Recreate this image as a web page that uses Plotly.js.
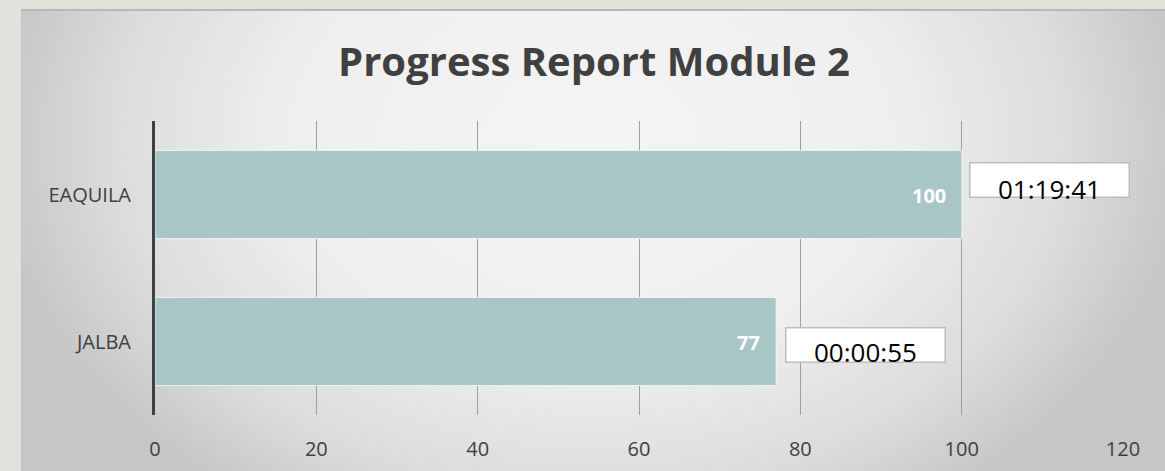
<!DOCTYPE html>
<html>
<head>
<meta charset="utf-8">
<script src="https://cdn.plot.ly/plotly-3.0.1.min.js"></script>
<style>
  html, body { margin: 0; padding: 0; width: 1165px; height: 471px; background: #e1e1dc; overflow: hidden; }
  #frame {
    position: absolute; left: 21px; top: 9px; width: 1144px; height: 462px;
    border-top: 2px solid #b8b8b8; border-left: 1px solid #c4c4c4; box-sizing: border-box;
    background: radial-gradient(ellipse 600px 440px at 569px 130px, #f4f4f4 0%, #efefef 50%, #dcdcdc 80%, #c6c6c6 100%);
    background-color: #c6c6c6;
  }
  #chart { position: absolute; left: 0; top: -2px; width: 1144px; height: 462px; }
</style>
</head>
<body>
<div id="frame"><div id="chart"></div></div>
<script>
// Data
const categories = ["JALBA", "EAQUILA"];
const progress = [77, 100];
const durations = ["00:00:55", "01:19:41"];
const xTicks = [0, 20, 40, 60, 80, 100, 120];
const chartTitle = "Progress Report Module 2";

const font = "'Open Sans', 'Noto Sans', sans-serif";

const trace = {
  type: "bar",
  orientation: "h",
  y: categories,
  x: progress,
  width: 0.6,
  marker: { color: "#a9c6c6", line: { color: "rgba(255,255,255,0.7)", width: 1 } },
  hoverinfo: "none"
};

// value labels inside bar end + duration boxes
const annotations = [];
const boxShift = { "EAQUILA": [88, 15, 6], "JALBA": [89, -3.5, -10] };
categories.forEach((c, i) => {
  annotations.push({
    x: progress[i], y: c, xref: "x", yref: "y",
    text: String(progress[i]), showarrow: false,
    xanchor: "right", xshift: -14, yshift: -1,
    font: { family: font, size: 20, color: "#ffffff", weight: 700 }
  });
  const s = boxShift[c];
  annotations.push({
    x: progress[i], y: c, xref: "x", yref: "y",
    text: " ", showarrow: false,
    xshift: s[0], yshift: s[1],
    width: 158, height: 33,
    bgcolor: "#ffffff", bordercolor: "#bdbdbd", borderwidth: 1.5, borderpad: 0,
    font: { family: font, size: 12, color: "#000" }
  });
  annotations.push({
    x: progress[i], y: c, xref: "x", yref: "y",
    text: durations[i], showarrow: false,
    xshift: s[0], yshift: s[2],
    font: { family: font, size: 26, color: "#000000" }
  });
});

const layout = {
  width: 1144, height: 462,
  paper_bgcolor: "rgba(0,0,0,0)",
  plot_bgcolor: "rgba(0,0,0,0)",
  margin: { l: 133, r: 43, t: 112, b: 56 },
  title: {
    text: "<b>" + chartTitle + "</b>",
    x: 0.5, xanchor: "center", y: 0.885, yanchor: "middle",
    font: { family: font, size: 40, color: "#404040" }
  },
  showlegend: false,
  xaxis: {
    range: [0, 120],
    tickvals: xTicks,
    ticktext: xTicks.map(String),
    showgrid: true, gridcolor: "#9e9e9e", gridwidth: 1,
    zeroline: false, showline: false,
    ticks: "outside", ticklen: 16, tickcolor: "rgba(0,0,0,0)",
    tickfont: { family: font, size: 20, color: "#404040" },
    fixedrange: true
  },
  yaxis: {
    categoryorder: "array", categoryarray: categories,
    range: [-0.5, 1.5],
    showgrid: false, zeroline: false,
    showline: true, linecolor: "#404040", linewidth: 3,
    ticks: "outside", ticklen: 17, tickcolor: "rgba(0,0,0,0)",
    tickfont: { family: font, size: 20, color: "#404040" },
    fixedrange: true
  },
  annotations: annotations,
  bargap: 0.4
};

Plotly.newPlot("chart", [trace], layout, { displayModeBar: false, staticPlot: true });
</script>
</body>
</html>
